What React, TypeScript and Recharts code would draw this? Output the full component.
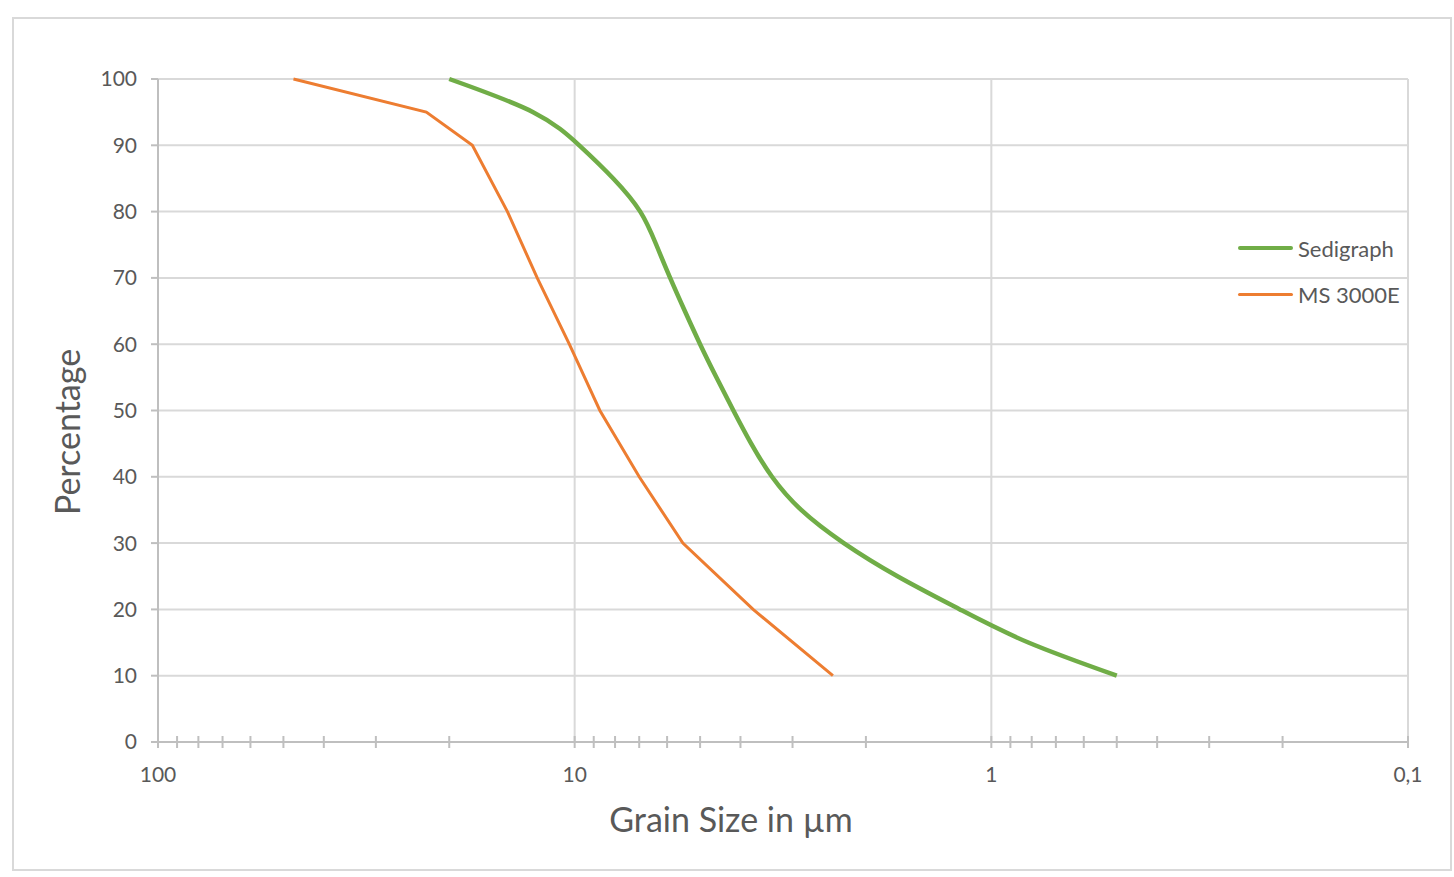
import React from 'react';
import { LineChart, Line, XAxis, YAxis, CartesianGrid, Legend, Label } from 'recharts';

// grain size ticks (µm), log axis running from 100 down to 0.1
const sizeTicks = [
  100, 90, 80, 70, 60, 50, 40, 30, 20,
  10, 9, 8, 7, 6, 5, 4, 3, 2,
  1, 0.9, 0.8, 0.7, 0.6, 0.5, 0.4, 0.3, 0.2, 0.1,
];
const majorSizes = [100, 10, 1, 0.1];
const majorLabels = ['100', '10', '1', '0,1'];
const percentTicks = [0, 10, 20, 30, 40, 50, 60, 70, 80, 90, 100];

const seriesNames = ['Sedigraph', 'MS 3000E'];
const seriesColors = ['#70ad47', '#ed7d31'];
const seriesWidths = [4.5, 3];

// Sedigraph curve
const sedigraphSize = [20, 12.58, 9.75, 8.08, 6.96, 6.37, 5.9, 5.44, 5.0, 4.57, 4.16, 3.77, 3.36, 2.86, 2.26, 1.68, 1.19, 0.815, 0.5];
const sedigraphPct = [100, 95, 90, 85, 80, 75, 70, 65, 60, 55, 50, 45, 40, 35, 30, 25, 20, 15, 10];

// MS 3000E curve
const msSize = [47.3, 22.7, 17.6, 14.5, 12.3, 10.3, 8.7, 7.0, 5.5, 3.73, 2.4];
const msPct = [100, 95, 90, 80, 70, 60, 50, 40, 30, 20, 10];

const sedigraphData = sedigraphSize.map((size, i) => ({ size, pct: sedigraphPct[i] }));
const msData = msSize.map((size, i) => ({ size, pct: msPct[i] }));

const FONT = 'Lato, "Noto Sans", sans-serif';
const TEXT = '#595959';
const GRID = '#d9d9d9';
const AXIS = '#bfbfbf';

const SizeTick = (props: any) => {
  const { x, y, payload } = props;
  const idx = majorSizes.indexOf(payload.value);
  return (
    <g>
      <line x1={x} x2={x} y1={y - 6} y2={y + 6} stroke={AXIS} strokeWidth={2} />
      {idx >= 0 && (
        <text
          x={x}
          y={y + 31}
          textAnchor="middle"
          dominantBaseline="central"
          fill={TEXT}
          fontSize={21}
          fontFamily={FONT}
        >
          {majorLabels[idx]}
        </text>
      )}
    </g>
  );
};

const LegendBox = (props: any) => {
  const { payload = [] } = props;
  const items = [...payload].sort(
    (a: any, b: any) => seriesNames.indexOf(a.value) - seriesNames.indexOf(b.value)
  );
  return (
    <div style={{ fontFamily: FONT }}>
      {items.map((e: any) => {
        const i = seriesNames.indexOf(e.value);
        return (
          <div key={e.value} style={{ display: 'flex', alignItems: 'center', height: 46 }}>
            <span
              style={{
                display: 'inline-block',
                width: 55,
                height: seriesWidths[i] ?? 3,
                background: e.color,
                borderRadius: 2,
                marginRight: 5,
              }}
            />
            <span style={{ fontSize: 22, color: TEXT }}>{e.value}</span>
          </div>
        );
      })}
    </div>
  );
};

export default function App() {
  return (
    <div style={{ position: 'absolute', left: 0, top: 0, width: 1454, height: 877, background: '#fff' }}>
      <div
        style={{
          position: 'absolute',
          left: 12,
          top: 17,
          width: 1440,
          height: 854,
          border: `2px solid ${GRID}`,
          boxSizing: 'border-box',
        }}
      />
      <LineChart
        width={1454}
        height={877}
        margin={{ top: 79, right: 46, bottom: 35, left: 58 }}
        style={{ fontFamily: FONT }}
      >
        <CartesianGrid
          stroke={GRID}
          strokeWidth={2}
          horizontalValues={percentTicks}
          verticalValues={majorSizes}
        />
        <XAxis
          type="number"
          dataKey="size"
          scale="log"
          domain={[0.1, 100]}
          reversed
          allowDataOverflow
          ticks={sizeTicks}
          interval={0}
          height={100}
          tickSize={0}
          tickMargin={0}
          tickLine={false}
          axisLine={{ stroke: AXIS, strokeWidth: 2 }}
          tick={<SizeTick />}
        >
          <Label
            content={() => (
              <text x={731} y={818} textAnchor="middle" dominantBaseline="central" fill={TEXT} fontSize={34} fontFamily={FONT}>
                Grain Size in µm
              </text>
            )}
          />
        </XAxis>
        <YAxis
          type="number"
          domain={[0, 100]}
          ticks={percentTicks}
          interval={0}
          width={100}
          tickSize={7}
          tickMargin={14}
          axisLine={{ stroke: AXIS, strokeWidth: 2 }}
          tickLine={{ stroke: AXIS, strokeWidth: 2 }}
          tick={{ fill: TEXT, fontSize: 21, fontFamily: FONT }}
        >
          <Label
            content={() => (
              <text
                x={66}
                y={432}
                transform="rotate(-90 66 432)"
                textAnchor="middle"
                dominantBaseline="central"
                fill={TEXT}
                fontSize={34}
                fontFamily={FONT}
              >
                Percentage
              </text>
            )}
          />
        </YAxis>
        <Legend
          layout="horizontal"
          align="center"
          verticalAlign="middle"
          content={<LegendBox />}
          wrapperStyle={{ position: 'absolute', left: 1238, top: 225, width: 200 }}
        />
        <Line
          name={seriesNames[0]}
          data={sedigraphData}
          dataKey="pct"
          type="natural"
          stroke={seriesColors[0]}
          strokeWidth={seriesWidths[0]}
          dot={false}
          activeDot={false}
          isAnimationActive={false}
        />
        <Line
          name={seriesNames[1]}
          data={msData}
          dataKey="pct"
          type="linear"
          stroke={seriesColors[1]}
          strokeWidth={seriesWidths[1]}
          dot={false}
          activeDot={false}
          isAnimationActive={false}
        />
      </LineChart>
    </div>
  );
}
